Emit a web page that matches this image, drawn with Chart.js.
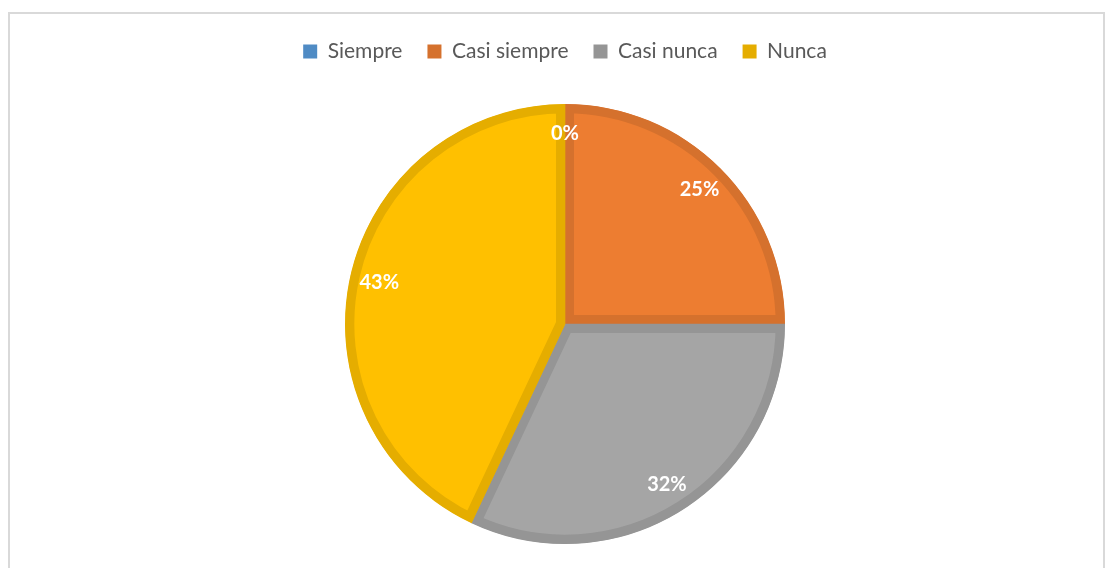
<!DOCTYPE html>
<html>
<head>
<meta charset="utf-8">
<script src="https://cdn.jsdelivr.net/npm/chart.js@4"></script>
<style>
  html, body { margin: 0; padding: 0; background: #fff; overflow: hidden; }
  .frame { position: absolute; left: 8px; top: 12px; width: 1097px; height: 620px; border: 2px solid #d9d9d9; box-sizing: border-box; }
  #myChart { position: absolute; left: 0; top: 0; }
</style>
</head>
<body>
<div class="frame"></div>
<canvas id="myChart" width="1109" height="568"></canvas>
<script>
// data
const categories = ['Siempre', 'Casi siempre', 'Casi nunca', 'Nunca'];
const percents = [0, 25, 32, 43];
const fillColors = ['#5b9bd5', '#ed7d31', '#a5a5a5', '#ffc000'];
const edgeColors = ['#4f8bc4', '#d5712d', '#959595', '#e5ad00'];

// white % labels inside each slice
const sliceLabels = {
  id: 'sliceLabels',
  afterDatasetsDraw(chart) {
    const ctx = chart.ctx;
    const meta = chart.getDatasetMeta(0);
    ctx.save();
    ctx.fillStyle = '#ffffff';
    ctx.font = 'bold 20px Lato';
    ctx.textAlign = 'center';
    ctx.textBaseline = 'middle';
    meta.data.forEach((arc, i) => {
      const mid = (arc.startAngle + arc.endAngle) / 2;
      const r = arc.outerRadius * 0.865;
      ctx.fillText(percents[i] + '%', arc.x + Math.cos(mid) * r, arc.y + Math.sin(mid) * r);
    });
    ctx.restore();
  }
};

// give the legend a fixed height so the pie sits lower
const legendSpace = {
  id: 'legendSpace',
  beforeInit(chart) {
    const fit = chart.legend.fit;
    chart.legend.fit = function () {
      fit.bind(chart.legend)();
      this.height = 88;
    };
  }
};

const ctx = document.getElementById('myChart').getContext('2d');
const chart = new Chart(ctx, {
  type: 'pie',
  data: {
    labels: categories,
    datasets: [{
      data: percents,
      backgroundColor: fillColors,
      borderColor: edgeColors,
      borderWidth: 9,
      borderAlign: 'inner'
    }]
  },
  options: {
    responsive: false,
    animation: false,
    layout: { padding: { top: 16, bottom: 24, left: 21 } },
    plugins: {
      tooltip: { enabled: false },
      legend: {
        position: 'top',
        labels: {
          font: { family: 'Lato', size: 21 },
          color: '#595959',
          boxWidth: 14,
          boxHeight: 14,
          padding: 25,
          generateLabels: (c) => categories.map((name, i) => ({
            text: name,
            fillStyle: edgeColors[i],
            strokeStyle: edgeColors[i],
            lineWidth: 0,
            fontColor: '#595959',
            index: i
          }))
        }
      }
    }
  },
  plugins: [sliceLabels, legendSpace]
});
</script>
</body>
</html>
